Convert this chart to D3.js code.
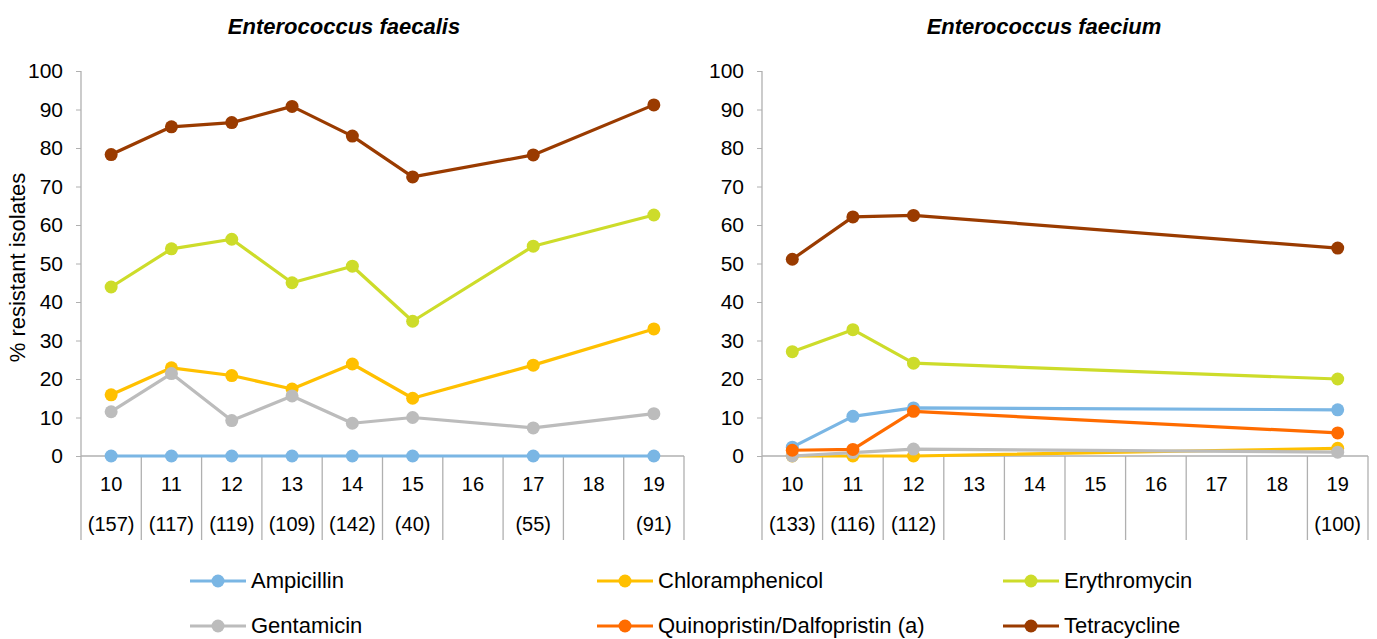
<!DOCTYPE html>
<html>
<head>
<meta charset="utf-8">
<script src="https://cdn.jsdelivr.net/npm/d3@7"></script>
<style>
  html, body { margin: 0; padding: 0; background: #fff; }
  svg { display: block; font-family: "Liberation Sans", Arial, sans-serif; }
</style>
</head>
<body>
<svg id="chart" width="1377" height="639"></svg>
<script>
// ---------------- DATA ----------------
const years = ["10", "11", "12", "13", "14", "15", "16", "17", "18", "19"];
const faecalisCounts = ["(157)", "(117)", "(119)", "(109)", "(142)", "(40)", "", "(55)", "", "(91)"];
const faeciumCounts = ["(133)", "(116)", "(112)", "", "", "", "", "", "", "(100)"];
const antimicrobials = ["Ampicillin", "Chloramphenicol", "Erythromycin", "Gentamicin", "Quinopristin/Dalfopristin (a)", "Tetracycline"];
const seriesColors = ["#7ab6e4", "#ffc000", "#cddc2a", "#bcbcbc", "#ff6c00", "#9a3b00"];
const yTicks = [0, 10, 20, 30, 40, 50, 60, 70, 80, 90, 100];

// Enterococcus faecalis (null = no data)
const faecalisAmpicillin      = [0, 0, 0, 0, 0, 0, null, 0, null, 0];
const faecalisChloramphenicol = [15.9, 22.9, 20.9, 17.4, 23.9, 15.0, null, 23.6, null, 33.0];
const faecalisErythromycin    = [43.9, 53.8, 56.3, 45.0, 49.3, 35.0, null, 54.5, null, 62.6];
const faecalisGentamicin      = [11.5, 21.4, 9.2, 15.6, 8.5, 10.0, null, 7.3, null, 11.0];
const faecalisQuinupristin    = [null, null, null, null, null, null, null, null, null, null];
const faecalisTetracycline    = [78.3, 85.5, 86.6, 90.8, 83.1, 72.5, null, 78.2, null, 91.2];

// Enterococcus faecium
const faeciumAmpicillin       = [2.3, 10.3, 12.5, null, null, null, null, null, null, 12.0];
const faeciumChloramphenicol  = [0, 0, 0, null, null, null, null, null, null, 2.0];
const faeciumErythromycin     = [27.1, 32.8, 24.1, null, null, null, null, null, null, 20.0];
const faeciumGentamicin       = [0, 0.9, 1.8, null, null, null, null, null, null, 1.0];
const faeciumQuinupristin     = [1.5, 1.7, 11.6, null, null, null, null, null, null, 6.0];
const faeciumTetracycline     = [51.1, 62.1, 62.5, null, null, null, null, null, null, 54.0];

const panels = [
  { title: "Enterococcus faecalis", counts: faecalisCounts,
    series: [faecalisAmpicillin, faecalisChloramphenicol, faecalisErythromycin, faecalisGentamicin, faecalisQuinupristin, faecalisTetracycline],
    x0: 81, x1: 684, titleX: 344, yLabel: "% resistant isolates" },
  { title: "Enterococcus faecium", counts: faeciumCounts,
    series: [faeciumAmpicillin, faeciumChloramphenicol, faeciumErythromycin, faeciumGentamicin, faeciumQuinupristin, faeciumTetracycline],
    x0: 762, x1: 1368, titleX: 1044, yLabel: null }
];

// ---------------- LAYOUT ----------------
const svg = d3.select("#chart");
const yTop = 71, yBottom = 456, catBottom = 540;
const axisColor = "#b0b0b0";

const y = d3.scaleLinear().domain([0, 100]).range([yBottom, yTop]);

panels.forEach(p => {
  const g = svg.append("g");
  const x = d3.scaleBand().domain(years).range([p.x0, p.x1]).padding(0);
  const cx = d => x(d) + x.bandwidth() / 2;

  // title
  g.append("text")
    .attr("x", p.titleX).attr("y", 34)
    .attr("text-anchor", "middle")
    .attr("font-size", 22).attr("font-weight", "bold").attr("font-style", "italic")
    .attr("fill", "#000")
    .text(p.title);

  // y axis
  const yAxis = d3.axisLeft(y).tickValues(yTicks).tickSize(5).tickPadding(13).tickFormat(d3.format("d"));
  const ya = g.append("g").attr("transform", `translate(${p.x0},0)`).call(yAxis);
  ya.select(".domain").remove();
  ya.selectAll(".tick line").attr("stroke", axisColor);
  ya.selectAll(".tick text").attr("font-size", 21).attr("fill", "#000")
    .attr("font-family", "Liberation Sans, Arial, sans-serif");
  g.append("line").attr("x1", p.x0).attr("x2", p.x0).attr("y1", yTop).attr("y2", catBottom)
    .attr("stroke", axisColor).attr("stroke-width", 1.3);

  // x axis (baseline + separators)
  g.append("line").attr("x1", p.x0).attr("x2", p.x1).attr("y1", yBottom).attr("y2", yBottom)
    .attr("stroke", axisColor).attr("stroke-width", 1.3);
  const boundaries = years.map(d => x(d) + x.bandwidth());
  g.selectAll(".sep").data(boundaries).enter().append("line")
    .attr("x1", d => d).attr("x2", d => d).attr("y1", yBottom).attr("y2", catBottom)
    .attr("stroke", axisColor).attr("stroke-width", 1.3);

  const xAxis = d3.axisBottom(x).tickSize(0).tickPadding(21);
  const xa = g.append("g").attr("transform", `translate(0,${yBottom})`).call(xAxis);
  xa.select(".domain").remove();
  xa.selectAll(".tick text").attr("font-size", 20).attr("fill", "#000")
    .attr("font-family", "Liberation Sans, Arial, sans-serif");

  g.selectAll(".cnt").data(years).enter().append("text")
    .attr("x", d => cx(d)).attr("y", 531)
    .attr("text-anchor", "middle").attr("font-size", 20).attr("fill", "#000")
    .text((d, i) => p.counts[i]);

  // y label
  if (p.yLabel) {
    g.append("text")
      .attr("transform", `translate(25,${(yTop + yBottom) / 2 + 4}) rotate(-90)`)
      .attr("text-anchor", "middle").attr("font-size", 22).attr("fill", "#000")
      .text(p.yLabel);
  }

  // series
  const line = d3.line().x(d => cx(d.year)).y(d => y(d.v));
  p.series.forEach((vals, si) => {
    const pts = years.map((yr, i) => ({ year: yr, v: vals[i] })).filter(d => d.v !== null);
    if (!pts.length) return;
    const sg = g.append("g");
    sg.append("path").datum(pts).attr("d", line)
      .attr("fill", "none").attr("stroke", seriesColors[si]).attr("stroke-width", 3.2)
      .attr("stroke-linejoin", "round");
    sg.selectAll("circle").data(pts).enter().append("circle")
      .attr("cx", d => cx(d.year)).attr("cy", d => y(d.v)).attr("r", 6.5)
      .attr("fill", seriesColors[si]);
  });
});

// ---------------- LEGEND ----------------
const legendCols = [190, 597, 1003];
const legendRows = [581, 626];
const lg = svg.append("g");
antimicrobials.forEach((name, i) => {
  const lx = legendCols[i % 3], ly = legendRows[Math.floor(i / 3)];
  const item = lg.append("g");
  item.append("line").attr("x1", lx).attr("x2", lx + 56).attr("y1", ly).attr("y2", ly)
    .attr("stroke", seriesColors[i]).attr("stroke-width", 3.2);
  item.append("circle").attr("cx", lx + 28).attr("cy", ly).attr("r", 6.5).attr("fill", seriesColors[i]);
  item.append("text").attr("x", lx + 61).attr("y", ly + 7)
    .attr("font-size", 22).attr("fill", "#000").text(name);
});
</script>
</body>
</html>
